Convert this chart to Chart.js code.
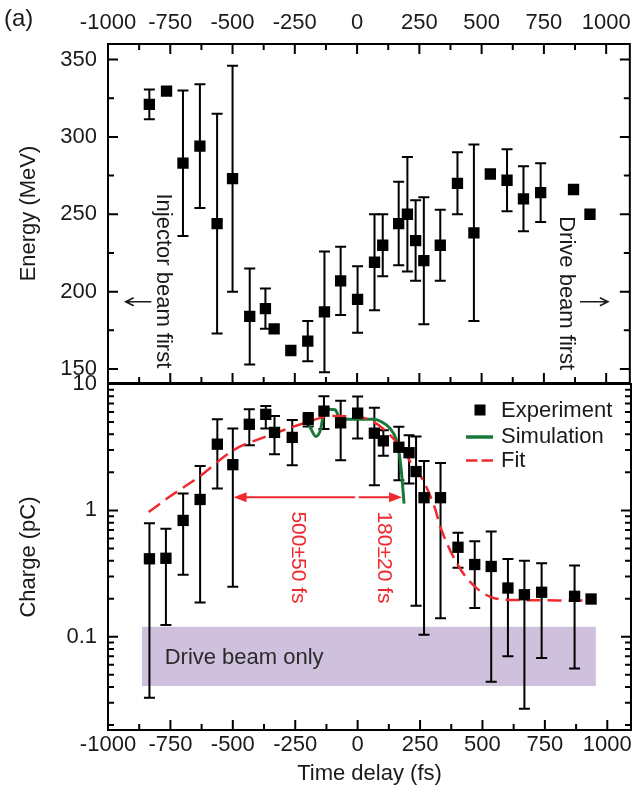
<!DOCTYPE html>
<html>
<head>
<meta charset="utf-8">
<script src="https://cdn.jsdelivr.net/npm/chart.js@4.4.0/dist/chart.umd.min.js"></script>
<style>
  body { margin: 0; background: #fff; }
  #wrap { position: relative; width: 639px; height: 787px; }
  #wrap canvas { position: absolute; left: 0; top: 0; }
</style>
</head>
<body>
<div id="wrap">
  <canvas id="energyChart" width="639" height="787"></canvas>
  <canvas id="chargeChart" width="639" height="787"></canvas>
</div>
<script>
// ---- data ----
const xTicks = [-1000, -750, -500, -250, 0, 250, 500, 750, 1000];
const energyTicks = [150, 200, 250, 300, 350];
const chargeTicks = [0.1, 1, 10];

// top panel: electron energy vs. delay
const timeE = [-834, -765, -699, -631, -562, -500, -431, -368, -333, -266, -198, -131, -66, 2,
  70, 103, 167, 202, 235, 268, 334, 403, 469, 535, 602, 668, 737, 869, 935];
const energy = [321, 329.5, 283, 294, 244, 273, 184, 189, 176, 162, 168, 187, 207, 195,
  219, 230, 244, 250, 233, 220, 230, 270, 238, 276, 272, 260, 264, 266, 250];
const energyErr = [9.6, 0, 47, 40, 71, 73, 31, 13, 0, 0, 13, 39, 22, 21.5,
  31, 20, 27, 37, 26, 41, 23, 20, 57, 0, 20, 21, 19, 0, 0];

// bottom panel: charge vs. delay (log axis, asymmetric bars)
const timeQ = [-834, -768, -699, -631, -562, -500, -434, -368, -333, -262, -198, -135, -68, 0,
  67, 103, 165, 206, 234, 266, 332, 402, 469, 535, 602, 668, 737, 869, 935];
const charge = [0.414, 0.418, 0.833, 1.22, 3.34, 2.3, 4.8, 5.75, 4.14, 3.78, 5.25, 6.1, 4.93, 5.88,
  4.08, 3.55, 3.16, 2.86, 2.03, 1.26, 1.26, 0.511, 0.373, 0.36, 0.243, 0.215, 0.225, 0.209, 0.199];
const chargeLo = [0.033, 0.124, 0.31, 0.187, 1.49, 0.249, 3.28, 4.45, 2.78, 2.28, 4.6, 4.4, 2.49, 3.7,
  1.58, 2.7, 1.73, 1.63, 0.176, 0.104, 0.14, 0.351, 0.169, 0.044, 0.07, 0.027, 0.068, 0.056, null];
const chargeHi = [0.79, 0.716, 1.36, 2.25, 5.25, 4.45, 6.3, 6.7, 5.57, 5.18, 5.9, 8.0, 7.36, 7.95,
  6.5, 4.3, 4.58, 3.94, 3.85, 2.46, 2.37, 0.665, 0.571, 0.681, 0.413, 0.40, 0.382, 0.366, null];

const simT = [-194, -167, -148, -134, -114, -90, -73, -40, 0, 64, 97, 130, 153, 167, 176, 186];
const simQ = [4.7, 3.85, 4.4, 6.1, 6.3, 6.25, 5.4, 5.25, 5.25, 5.25, 5.0, 4.45, 3.7, 2.8, 1.95, 1.13];

const fitT = [-837, -754, -636, -497, -371, -266, -200, -109, -2, 64, 123, 182, 215, 262, 308,
  334, 407, 473, 552, 650, 800, 948];
const fitQ = [0.97, 1.28, 1.84, 3.0, 3.82, 4.53, 5.0, 5.57, 5.5, 5.02, 4.06, 3.0, 2.35, 1.73, 1.06,
  0.716, 0.355, 0.246, 0.201, 0.195, 0.194, 0.193];

const boxT = [-864, 954];
const boxQ = [0.0408, 0.12];

// ---- styling ----
const ink = '#1a1a1a';
const red = '#ee2a2e';
const green = '#19773a';
const purple = '#cfc0dd';
const family = "'Liberation Sans', Arial, Helvetica, sans-serif";
const tickFont = { family: family, size: 22 };
const titleFont = { family: family, size: 22 };
const X_MIN = -1000, X_MAX = 1095;

function minorX() {
  const out = [];
  for (let v = X_MIN + 125; v <= X_MAX; v += 250) out.push(v);
  return out;
}

function xTickMarks(chart, values, len, edge) {
  const { ctx, chartArea: ca } = chart;
  const s = chart.scales.x;
  values.forEach(v => {
    const px = s.getPixelForValue(v);
    if (px < ca.left - 0.5 || px > ca.right + 0.5) return;
    const y0 = edge === 'top' ? ca.top : ca.bottom;
    const dir = edge === 'top' ? 1 : -1;
    ctx.beginPath();
    ctx.moveTo(px, y0);
    ctx.lineTo(px, y0 + dir * len);
    ctx.stroke();
  });
}

function yTickMarks(chart, values, len) {
  const { ctx, chartArea: ca } = chart;
  const s = chart.scales.y;
  values.forEach(v => {
    const py = s.getPixelForValue(v);
    if (py < ca.top - 0.5 || py > ca.bottom + 0.5) return;
    ctx.beginPath();
    ctx.moveTo(ca.left, py); ctx.lineTo(ca.left + len, py);
    ctx.moveTo(ca.right, py); ctx.lineTo(ca.right - len, py);
    ctx.stroke();
  });
}

function frame(chart) {
  const { ctx, chartArea: ca } = chart;
  ctx.strokeRect(ca.left, ca.top, ca.right - ca.left, ca.bottom - ca.top);
}

function errorBars(chart, xs, lo, hi) {
  const ctx = chart.ctx;
  const xS = chart.scales.x, yS = chart.scales.y;
  ctx.save();
  ctx.strokeStyle = '#000';
  ctx.lineWidth = 2;
  xs.forEach((t, i) => {
    if (lo[i] == null) return;
    const px = xS.getPixelForValue(t);
    const y1 = yS.getPixelForValue(lo[i]);
    const y2 = yS.getPixelForValue(hi[i]);
    ctx.beginPath();
    ctx.moveTo(px, y1); ctx.lineTo(px, y2);
    ctx.moveTo(px - 5.5, y1); ctx.lineTo(px + 5.5, y1);
    ctx.moveTo(px - 5.5, y2); ctx.lineTo(px + 5.5, y2);
    ctx.stroke();
  });
  ctx.restore();
}

function lineArrow(ctx, x1, x2, y) {
  const d = Math.sign(x2 - x1);
  ctx.beginPath();
  ctx.moveTo(x1, y); ctx.lineTo(x2, y);
  ctx.moveTo(x2 - d * 8, y - 4); ctx.lineTo(x2, y); ctx.lineTo(x2 - d * 8, y + 4);
  ctx.stroke();
}

function solidArrow(ctx, x1, x2, y) {
  const d = Math.sign(x2 - x1);
  ctx.beginPath();
  ctx.moveTo(x1, y); ctx.lineTo(x2 - d * 10, y);
  ctx.stroke();
  ctx.beginPath();
  ctx.moveTo(x2, y);
  ctx.lineTo(x2 - d * 13, y - 5);
  ctx.lineTo(x2 - d * 13, y + 5);
  ctx.closePath();
  ctx.fill();
}

function vText(ctx, text, x, y, size, color) {
  ctx.save();
  ctx.translate(x, y);
  ctx.rotate(Math.PI / 2);
  ctx.font = size + 'px ' + family;
  ctx.fillStyle = color;
  ctx.textAlign = 'center';
  ctx.textBaseline = 'middle';
  ctx.fillText(text, 0, 0);
  ctx.restore();
}

const energyDecor = {
  id: 'energyDecor',
  beforeDatasetsDraw(chart) {
    const lo = energy.map((e, i) => energyErr[i] ? e - energyErr[i] : null);
    const hi = energy.map((e, i) => energyErr[i] ? e + energyErr[i] : null);
    errorBars(chart, timeE, lo, hi);
  },
  afterDraw(chart) {
    const { ctx } = chart;
    const xS = chart.scales.x, yS = chart.scales.y;
    ctx.save();
    ctx.strokeStyle = '#000';
    ctx.lineWidth = 2;
    frame(chart);
    xTickMarks(chart, xTicks, 10, 'top');
    xTickMarks(chart, minorX(), 6, 'top');
    xTickMarks(chart, xTicks, 10, 'bottom');
    xTickMarks(chart, minorX(), 6, 'bottom');
    yTickMarks(chart, energyTicks, 10);
    yTickMarks(chart, [175, 225, 275, 325], 6);

    ctx.lineWidth = 1.6;
    ctx.strokeStyle = ink;
    const ya = yS.getPixelForValue(193.5);
    lineArrow(ctx, xS.getPixelForValue(-826), xS.getPixelForValue(-929), ya);
    lineArrow(ctx, xS.getPixelForValue(895), xS.getPixelForValue(1007), ya);
    vText(ctx, 'Injector beam first', xS.getPixelForValue(-778), yS.getPixelForValue(207), 22, ink);
    vText(ctx, 'Drive beam first', xS.getPixelForValue(841), yS.getPixelForValue(199), 22, ink);

    ctx.font = '24px ' + family;
    ctx.fillStyle = ink;
    ctx.textAlign = 'left';
    ctx.textBaseline = 'middle';
    ctx.fillText('(a)', 4, 19);
    ctx.restore();
  }
};

const chargeDecor = {
  id: 'chargeDecor',
  beforeDatasetsDraw(chart) {
    const { ctx } = chart;
    const xS = chart.scales.x, yS = chart.scales.y;
    const x1 = xS.getPixelForValue(boxT[0]), x2 = xS.getPixelForValue(boxT[1]);
    const y1 = yS.getPixelForValue(boxQ[1]), y2 = yS.getPixelForValue(boxQ[0]);
    ctx.save();
    ctx.fillStyle = purple;
    ctx.fillRect(x1, y1, x2 - x1, y2 - y1);
    ctx.font = '22px ' + family;
    ctx.fillStyle = '#2a2a2a';
    ctx.textAlign = 'left';
    ctx.textBaseline = 'middle';
    ctx.fillText('Drive beam only', xS.getPixelForValue(-773), yS.getPixelForValue(0.0685));
    ctx.restore();
    errorBars(chart, timeQ, chargeLo, chargeHi);
  },
  afterDraw(chart) {
    const { ctx } = chart;
    const xS = chart.scales.x, yS = chart.scales.y;
    ctx.save();
    ctx.strokeStyle = '#000';
    ctx.lineWidth = 2;
    frame(chart);
    xTickMarks(chart, xTicks, 10, 'bottom');
    xTickMarks(chart, minorX(), 6, 'bottom');
    yTickMarks(chart, chargeTicks, 10);
    const minors = [];
    [0.01, 0.1, 1].forEach(d => { for (let k = 2; k <= 9; k++) minors.push(k * d); });
    yTickMarks(chart, minors, 6);

    // pulse-length arrows
    ctx.strokeStyle = red;
    ctx.fillStyle = red;
    ctx.lineWidth = 2;
    const ya = yS.getPixelForValue(1.27);
    solidArrow(ctx, xS.getPixelForValue(-10), xS.getPixelForValue(-497), ya);
    solidArrow(ctx, xS.getPixelForValue(4), xS.getPixelForValue(178), ya);
    vText(ctx, '500±50 fs', xS.getPixelForValue(-240), yS.getPixelForValue(0.424), 21, red);
    vText(ctx, '180±20 fs', xS.getPixelForValue(103), yS.getPixelForValue(0.424), 21, red);

    // legend
    ctx.font = '22px ' + family;
    ctx.textAlign = 'left';
    ctx.textBaseline = 'middle';
    ctx.fillStyle = '#000';
    ctx.fillRect(474.5, 404.5, 11, 11);
    ctx.strokeStyle = green;
    ctx.lineWidth = 3.5;
    ctx.beginPath(); ctx.moveTo(466, 437); ctx.lineTo(493, 437); ctx.stroke();
    ctx.strokeStyle = red;
    ctx.lineWidth = 2.5;
    ctx.beginPath();
    ctx.moveTo(466, 460.5); ctx.lineTo(477.5, 460.5);
    ctx.moveTo(481.5, 460.5); ctx.lineTo(493, 460.5);
    ctx.stroke();
    ctx.fillStyle = ink;
    ctx.fillText('Experiment', 501, 411);
    ctx.fillText('Simulation', 501, 437);
    ctx.fillText('Fit', 501, 461);
    ctx.restore();
  }
};

const hiddenGrid = { display: false, drawTicks: false };

new Chart(document.getElementById('energyChart'), {
  type: 'scatter',
  data: {
    datasets: [{
      label: 'Energy',
      data: timeE.map((t, i) => ({ x: t, y: energy[i] })),
      pointStyle: 'rect',
      pointRadius: 8,
      backgroundColor: '#000',
      borderWidth: 0
    }]
  },
  options: {
    responsive: false,
    animation: false,
    layout: { padding: { left: 0, right: 2, top: 0, bottom: 404 } },
    plugins: { legend: { display: false }, tooltip: { enabled: false } },
    scales: {
      x: {
        type: 'linear', position: 'top', min: X_MIN, max: X_MAX,
        grid: hiddenGrid, border: { display: false },
        afterBuildTicks: s => { s.ticks = xTicks.map(v => ({ value: v })); },
        afterFit: s => { s.height = 44; },
        ticks: { font: tickFont, color: ink, padding: 8, maxRotation: 0, autoSkip: false, callback: v => String(v) }
      },
      y: {
        type: 'linear', min: 141, max: 360,
        grid: hiddenGrid, border: { display: false },
        afterBuildTicks: s => { s.ticks = energyTicks.map(v => ({ value: v })); },
        afterFit: s => { s.width = 108; },
        ticks: { font: tickFont, color: ink, padding: 11, autoSkip: false, callback: v => String(v) },
        title: { display: true, text: 'Energy (MeV)', font: titleFont, color: ink, padding: { top: 16, bottom: 0 } }
      }
    }
  },
  plugins: [energyDecor]
});

new Chart(document.getElementById('chargeChart'), {
  type: 'scatter',
  data: {
    datasets: [
      {
        label: 'Experiment',
        data: timeQ.map((t, i) => ({ x: t, y: charge[i] })),
        pointStyle: 'rect',
        pointRadius: 8,
        backgroundColor: '#000',
        borderWidth: 0,
        order: 0
      },
      {
        label: 'Simulation',
        type: 'line',
        data: simT.map((t, i) => ({ x: t, y: simQ[i] })),
        borderColor: green,
        borderWidth: 3,
        pointRadius: 0,
        cubicInterpolationMode: 'monotone',
        fill: false,
        order: 2
      },
      {
        label: 'Fit',
        type: 'line',
        data: fitT.map((t, i) => ({ x: t, y: fitQ[i] })),
        borderColor: red,
        borderWidth: 2.5,
        borderDash: [14, 7],
        pointRadius: 0,
        cubicInterpolationMode: 'monotone',
        fill: false,
        order: 1
      }
    ]
  },
  options: {
    responsive: false,
    animation: false,
    layout: { padding: { left: 0, right: 2, top: 384, bottom: 0 } },
    plugins: { legend: { display: false }, tooltip: { enabled: false } },
    scales: {
      x: {
        type: 'linear', position: 'bottom', min: X_MIN, max: X_MAX,
        grid: hiddenGrid, border: { display: false },
        afterBuildTicks: s => { s.ticks = xTicks.map(v => ({ value: v })); },
        afterFit: s => { s.height = 57; },
        ticks: { font: tickFont, color: ink, padding: 2, maxRotation: 0, autoSkip: false, callback: v => String(v) },
        title: { display: true, text: 'Time delay (fs)', font: titleFont, color: ink, padding: { top: 0, bottom: 0 } }
      },
      y: {
        type: 'logarithmic', min: 0.0183, max: 10,
        grid: hiddenGrid, border: { display: false },
        afterBuildTicks: s => { s.ticks = chargeTicks.map(v => ({ value: v })); },
        afterFit: s => { s.width = 108; },
        ticks: { font: tickFont, color: ink, padding: 11, autoSkip: false, callback: v => String(v) },
        title: { display: true, text: 'Charge (pC)', font: titleFont, color: ink, padding: { top: 16, bottom: 0 } }
      }
    }
  },
  plugins: [chargeDecor]
});
</script>
</body>
</html>
